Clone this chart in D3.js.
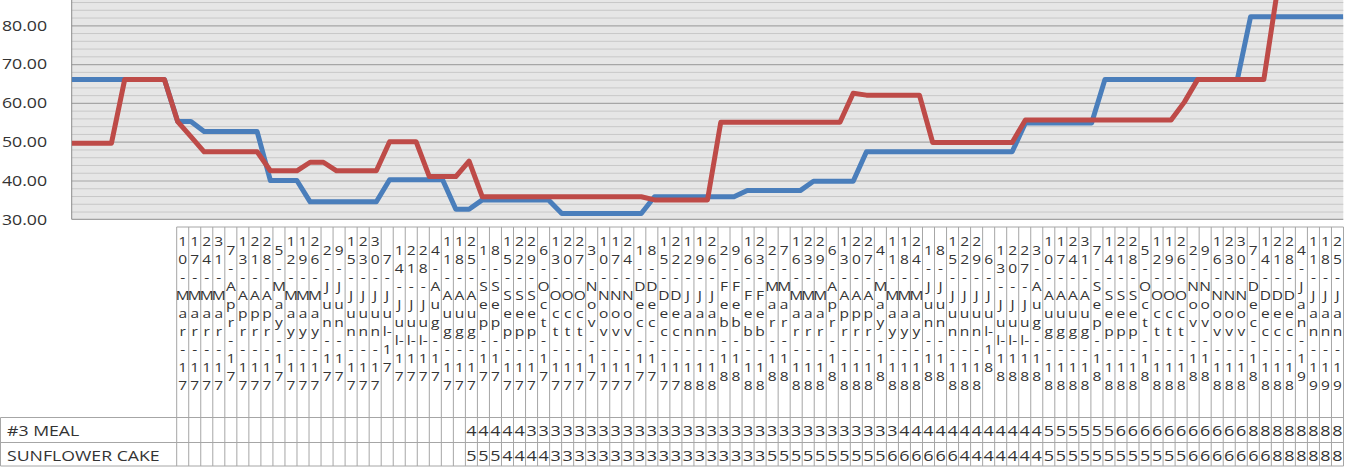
<!DOCTYPE html>
<html lang="en">
<head>
<meta charset="UTF-8">
<title>Sunflower cake and #3 meal</title>
<script src="https://d3js.org/d3.v7.min.js"></script>
<style>
  body { margin: 0; background: #fff; }
  svg text { font-family: "Open Sans", sans-serif; fill: #333; }
</style>
</head>
<body>
<svg id="chart" width="1346" height="473"></svg>
<script>
// weekly price dates (category axis / data table header)
const dates = [
  "10-Mar-17","17-Mar-17","24-Mar-17","31-Mar-17",
  "7-Apr-17","13-Apr-17","21-Apr-17","28-Apr-17",
  "5-May-17","12-May-17","19-May-17","26-May-17",
  "2-Jun-17","9-Jun-17","15-Jun-17","23-Jun-17","30-Jun-17",
  "7-Jul-17","14-Jul-17","21-Jul-17","28-Jul-17",
  "4-Aug-17","11-Aug-17","18-Aug-17","25-Aug-17",
  "1-Sep-17","8-Sep-17","15-Sep-17","22-Sep-17","29-Sep-17",
  "6-Oct-17","13-Oct-17","20-Oct-17","27-Oct-17",
  "3-Nov-17","10-Nov-17","17-Nov-17","24-Nov-17",
  "1-Dec-17","8-Dec-17","15-Dec-17","22-Dec-17",
  "12-Jan-18","19-Jan-18","26-Jan-18",
  "2-Feb-18","9-Feb-18","16-Feb-18","23-Feb-18",
  "2-Mar-18","7-Mar-18","16-Mar-18","23-Mar-18","29-Mar-18",
  "6-Apr-18","13-Apr-18","20-Apr-18","27-Apr-18",
  "4-May-18","11-May-18","18-May-18","24-May-18",
  "1-Jun-18","8-Jun-18","15-Jun-18","22-Jun-18","29-Jun-18",
  "6-Jul-18","13-Jul-18","20-Jul-18","27-Jul-18",
  "3-Aug-18","10-Aug-18","17-Aug-18","24-Aug-18","31-Aug-18",
  "7-Sep-18","14-Sep-18","21-Sep-18","28-Sep-18",
  "5-Oct-18","12-Oct-18","19-Oct-18","26-Oct-18",
  "2-Nov-18","9-Nov-18","16-Nov-18","23-Nov-18","30-Nov-18",
  "7-Dec-18","14-Dec-18","21-Dec-18","28-Dec-18",
  "4-Jan-19","11-Jan-19","18-Jan-19","25-Jan-19"
];

// #3 MEAL (blue)
const meal = [
  66, 66, 66, 66, 66, 66, 66, 66,
  55.2, 55.2,
  52.6, 52.6, 52.6, 52.6, 52.6,
  40, 40, 40,
  34.5, 34.5, 34.5, 34.5, 34.5, 34.5,
  40.2, 40.2, 40.2, 40.2, 40.2,
  32.6, 32.6,
  35, 35, 35, 35, 35, 35,
  31.5, 31.5, 31.5, 31.5, 31.5, 31.5, 31.5,
  35.8, 35.8, 35.8, 35.8, 35.8, 35.8, 35.8,
  37.4, 37.4, 37.4, 37.4, 37.4,
  39.8, 39.8, 39.8, 39.8,
  47.4, 47.4, 47.4, 47.4, 47.4, 47.4, 47.4, 47.4, 47.4, 47.4, 47.4, 47.4,
  54.8, 54.8, 54.8, 54.8, 54.8, 54.8,
  66, 66, 66, 66, 66, 66, 66, 66, 66, 66, 66,
  82.2, 82.2, 82.2, 82.2, 82.2, 82.2, 82.2, 82.2
];

// SUNFLOWER CAKE (red)
const cake = [
  49.6, 49.6, 49.6, 49.6,
  66, 66, 66, 66,
  55.2, 51.3,
  47.4, 47.4, 47.4, 47.4, 47.4,
  42.5, 42.5, 42.5,
  44.7, 44.7,
  42.5, 42.5, 42.5, 42.5,
  50, 50, 50,
  41, 41, 41,
  45,
  35.8, 35.8, 35.8, 35.8, 35.8, 35.8, 35.8, 35.8, 35.8, 35.8, 35.8, 35.8, 35.8,
  35, 35, 35, 35, 35,
  55, 55, 55, 55, 55, 55, 55, 55, 55, 55,
  62.5,
  62, 62, 62, 62, 62,
  49.8, 49.8, 49.8, 49.8, 49.8, 49.8, 49.8,
  55.6, 55.6, 55.6, 55.6, 55.6, 55.6, 55.6, 55.6, 55.6, 55.6, 55.6, 55.6,
  60.2,
  66, 66, 66, 66, 66, 66,
  88.5, 88.5, 88.5, 88.5, 88.5, 88.5
];

const seriesNames = ["#3 MEAL", "SUNFLOWER CAKE"];
const seriesColors = ["#4a7ebb", "#be4b48"];
const yTicks = [30, 40, 50, 60, 70, 80];
const title = "SUNFLOWER CAKE AND #3 MEAL JANUARY 2019";
const tableFirstFilled = 24; // data table cells are empty before this column

const svg = d3.select("#chart");
const W = 1346;
const stretch = 1.15; // the picture's text is drawn a little wide

const plot = { left: 71.7, right: 1343.3, bottom: 219.3 };
const x = d3.scalePoint().domain(dates).range([plot.left, plot.right]);
const y = d3.scaleLinear().domain([30, 90]).range([plot.bottom, plot.bottom - 60 * 3.88]);

svg.append("rect").attr("width", W).attr("height", 473).attr("fill", "#fff");

// title (mostly cut off at the top)
svg.append("text")
  .attr("x", 318).attr("y", 1.5)
  .attr("textLength", 791).attr("lengthAdjust", "spacingAndGlyphs")
  .style("font-size", "26px").style("font-weight", "bold").style("fill", "#595959")
  .text(title);

// plot background
svg.append("rect")
  .attr("x", plot.left).attr("y", y(90))
  .attr("width", plot.right - plot.left).attr("height", y(30) - y(90))
  .attr("fill", "#e6e6e6");

// minor / major gridlines
svg.append("g").selectAll("line")
  .data(d3.range(32, 91, 2))
  .join("line")
  .attr("x1", plot.left).attr("x2", plot.right)
  .attr("y1", d => y(d) + 0.5).attr("y2", d => y(d) + 0.5)
  .attr("stroke", d => d % 10 === 0 ? "#a6a6a6" : "#c8c8c8")
  .attr("stroke-width", d => d % 10 === 0 ? 1.2 : 1);

// axes lines
svg.append("line")
  .attr("x1", plot.left).attr("x2", plot.left)
  .attr("y1", y(90)).attr("y2", plot.bottom)
  .attr("stroke", "#8c8c8c");
svg.append("line")
  .attr("x1", plot.left).attr("x2", plot.right)
  .attr("y1", plot.bottom).attr("y2", plot.bottom)
  .attr("stroke", "#8c8c8c");

// y axis labels
const yAxis = svg.append("g")
  .attr("transform", `translate(${plot.left},0)`)
  .call(d3.axisLeft(y).tickValues(yTicks).tickFormat(d3.format(".2f")).tickSize(0));
yAxis.select(".domain").remove();
yAxis.selectAll("text")
  .attr("x", 0)
  .attr("transform", "translate(-24.7,0) scale(1.18,1)")
  .style("font-size", "15px").style("font-family", "'Open Sans', sans-serif")
  .attr("fill", "#333");

// lines
svg.append("clipPath").attr("id", "plotClip")
  .append("rect").attr("x", plot.left).attr("y", y(90))
  .attr("width", plot.right - plot.left).attr("height", y(30) - y(90));

const line = d3.line().x((d, i) => x(dates[i])).y(d => y(d));
svg.append("g").attr("clip-path", "url(#plotClip)")
  .selectAll("path")
  .data([meal, cake])
  .join("path")
  .attr("d", line)
  .attr("fill", "none")
  .attr("stroke", (d, i) => seriesColors[i])
  .attr("stroke-width", 5)
  .attr("stroke-linejoin", "round");

// data table
const tbl = { left: 176.7, right: 1343.5, top: 227, head: 417.5, row1: 442.5, bottom: 466 };
const col = d3.scaleBand().domain(dates).range([tbl.left, tbl.right]);
const gridColor = "#a6a6a6";
const tg = svg.append("g");

tg.selectAll("line.v")
  .data(d3.range(dates.length + 1))
  .join("line")
  .attr("class", "v")
  .attr("x1", i => tbl.left + i * col.bandwidth()).attr("x2", i => tbl.left + i * col.bandwidth())
  .attr("y1", tbl.top).attr("y2", tbl.bottom)
  .attr("stroke", gridColor);

tg.append("line").attr("x1", tbl.left).attr("x2", tbl.right)
  .attr("y1", tbl.top).attr("y2", tbl.top).attr("stroke", gridColor);
[tbl.head, tbl.row1, tbl.bottom].forEach(yy => {
  tg.append("line").attr("x1", 0.5).attr("x2", tbl.right)
    .attr("y1", yy).attr("y2", yy).attr("stroke", gridColor);
});
tg.append("line").attr("x1", 0.5).attr("x2", 0.5)
  .attr("y1", tbl.head).attr("y2", tbl.bottom).attr("stroke", gridColor);

// header labels, wrapped to the narrow column like the spreadsheet does:
// a new line after every hyphen, and character by character inside a part
const headSize = 13.5;
const meas = svg.append("text").style("font-size", headSize + "px");
function textW(s) { meas.text(s); return meas.node().getComputedTextLength(); }
function wrap(label) {
  const lines = [];
  label.split(/(?<=-)/).forEach(part => {
    let cur = "";
    for (const ch of part) {
      if (cur && textW(cur + ch) > 8.5) { lines.push(cur); cur = ch; }
      else cur += ch;
    }
    if (cur) lines.push(cur);
  });
  return lines;
}
const pitch = 18, headCenter = 313;
dates.forEach(d => {
  const lines = wrap(d);
  const y0 = headCenter - (lines.length - 1) * pitch / 2;
  const t = tg.append("text")
    .attr("text-anchor", "middle")
    .attr("transform", `translate(${col(d) + col.bandwidth() / 2},0) scale(${stretch},1)`)
    .style("font-size", headSize + "px");
  lines.forEach((s, j) => {
    t.append("tspan").attr("x", 0)
      .attr("y", y0 + j * pitch).attr("dy", "0.36em").text(s);
  });
});
meas.remove();

// row labels
[tbl.head, tbl.row1].forEach((top, r) => {
  tg.append("text")
    .attr("transform", `translate(7,${top + 18}) scale(1.18,1)`)
    .style("font-size", "15px").text(seriesNames[r]);
});

// table values (cells too narrow: only the leading digit shows)
[meal, cake].forEach((vals, r) => {
  const top = r === 0 ? tbl.head : tbl.row1;
  tg.append("g").selectAll("text")
    .data(vals.map((v, i) => ({ v, i })).filter(d => d.i >= tableFirstFilled))
    .join("text")
    .attr("transform", d => `translate(${col(dates[d.i]) + col.bandwidth() / 2},${top + 18.5}) scale(1.2,1)`)
    .attr("text-anchor", "middle")
    .style("font-size", "15px")
    .text(d => d3.format(".2f")(d.v).charAt(0));
});
</script>
</body>
</html>
